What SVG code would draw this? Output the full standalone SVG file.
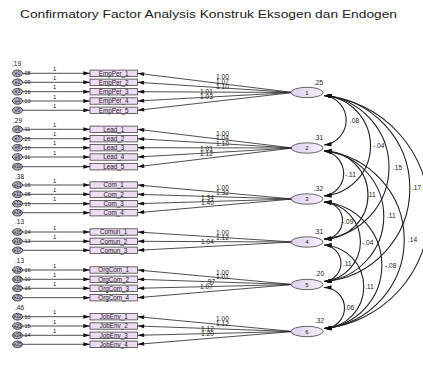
<svg xmlns="http://www.w3.org/2000/svg" width="423" height="366" viewBox="0 0 423 366">
<style>
text{font-family:"Liberation Sans",Arial,sans-serif;fill:#222}
.title{font-size:10.5px;fill:#222}
.box{fill:#eedcf2;stroke:#444;stroke-width:0.8}
.btx{font-size:6.3px;text-anchor:middle}
.err{fill:#b9aec9;stroke:#333;stroke-width:0.9}
.etx{font-size:4.8px;text-anchor:middle}
.ev{font-size:5.5px}
.one{font-size:6px}
.gv{font-size:6.5px}
.fac{fill:url(#fg);stroke:#444;stroke-width:0.8}
.ftx{font-size:6px;text-anchor:middle}
.num{font-size:6.6px}
.ln{stroke:#222;stroke-width:0.8;fill:none}
.arc{stroke:#222;stroke-width:1.1;fill:none}
</style>
<defs>
<linearGradient id="fg" x1="0" y1="0" x2="1" y2="0">
<stop offset="0" stop-color="#ddd0ee"/><stop offset="1" stop-color="#f6f0fa"/>
</linearGradient>
<marker id="ah" viewBox="0 0 10 6" refX="10" refY="3" markerWidth="10" markerHeight="4" markerUnits="userSpaceOnUse" orient="auto"><path d="M0,0 L10,3 L0,6 z" fill="#111"/></marker>
<marker id="ac" viewBox="0 0 10 6" refX="10" refY="3" markerWidth="8" markerHeight="4.5" markerUnits="userSpaceOnUse" orient="auto-start-reverse"><path d="M0,0 L10,3 L0,6 z" fill="#111"/></marker>
</defs>
<rect width="423" height="366" fill="#fff"/>
<text class="title" x="20" y="17.5" textLength="377" lengthAdjust="spacingAndGlyphs">Confirmatory Factor Analysis Konstruk Eksogen dan Endogen</text>

<g id="connectors">
<g marker-end="url(#ah)" class="ln">
<path d="M22.5,73.3H90"/><path d="M22.5,82.3H90"/><path d="M22.5,91.7H90"/><path d="M22.5,101H90"/><path d="M22.5,110.3H90"/>
<path d="M22.5,129.3H90"/><path d="M22.5,138.7H90"/><path d="M22.5,147.7H90"/><path d="M22.5,157H90"/><path d="M22.5,166.7H90"/>
<path d="M22.5,185H90"/><path d="M22.5,194.3H90"/><path d="M22.5,203.7H90"/><path d="M22.5,212.7H90"/>
<path d="M22.5,232H90"/><path d="M22.5,241.3H90"/><path d="M22.5,250.3H90"/>
<path d="M22.5,270H90"/><path d="M22.5,279.3H90"/><path d="M22.5,288.3H90"/><path d="M22.5,297.7H90"/>
<path d="M22.5,316.7H90"/><path d="M22.5,326H90"/><path d="M22.5,335.3H90"/><path d="M22.5,344.3H90"/>
</g>
<g marker-end="url(#ah)" class="ln">
<path d="M293,92.5L137.5,73.3"/><path d="M293,92.5L137.5,82.3"/><path d="M293,92.5L137.5,91.7"/><path d="M293,92.5L137.5,101"/><path d="M293,92.5L137.5,110.3"/>
<path d="M293,148L137.5,129.3"/><path d="M293,148L137.5,138.7"/><path d="M293,148L137.5,147.7"/><path d="M293,148L137.5,157"/><path d="M293,148L137.5,166.7"/>
<path d="M293,199L137.5,185"/><path d="M293,199L137.5,194.3"/><path d="M293,199L137.5,203.7"/><path d="M293,199L137.5,212.7"/>
<path d="M293,242L137.5,232"/><path d="M293,242L137.5,241.3"/><path d="M293,242L137.5,250.3"/>
<path d="M293,284.5L137.5,270"/><path d="M293,284.5L137.5,279.3"/><path d="M293,284.5L137.5,288.3"/><path d="M293,284.5L137.5,297.7"/>
<path d="M293,331.5L137.5,316.7"/><path d="M293,331.5L137.5,326"/><path d="M293,331.5L137.5,335.3"/><path d="M293,331.5L137.5,344.3"/>
</g>
<g class="arc" marker-start="url(#ac)" marker-end="url(#ac)">
<path d="M324,95.5A24.9,24.9 0 0 1 324,145"/>
<path d="M324,95.5A50.4,50.4 0 0 1 324,196"/>
<path d="M324,95.5A72.1,72.1 0 0 1 324,239"/>
<path d="M324,95.5A93.3,93.3 0 0 1 324,281.5"/>
<path d="M324,95.5A117.1,117.1 0 0 1 324,328.5"/>
<path d="M324,151A22.7,22.7 0 0 1 324,196"/>
<path d="M324,151A44,44 0 0 1 324,239"/>
<path d="M324,151A65.5,65.5 0 0 1 324,281.5"/>
<path d="M324,151A89.2,89.2 0 0 1 324,328.5"/>
<path d="M324,202A18.5,18.5 0 0 1 324,239"/>
<path d="M324,202A39.9,39.9 0 0 1 324,281.5"/>
<path d="M324,202A63.5,63.5 0 0 1 324,328.5"/>
<path d="M324,245A18.3,18.3 0 0 1 324,281.5"/>
<path d="M324,245A41.8,41.8 0 0 1 324,328.5"/>
<path d="M324,287.5A20.5,20.5 0 0 1 324,328.5"/>
</g>
<g class="one">
<text x="53" y="70.8">1</text><text x="53" y="79.8">1</text><text x="53" y="89.2">1</text><text x="53" y="98.5">1</text><text x="53" y="107.8">1</text>
<text x="53" y="126.8">1</text><text x="53" y="136.2">1</text><text x="53" y="145.2">1</text><text x="53" y="154.5">1</text>
<text x="53" y="182.5">1</text><text x="53" y="191.8">1</text><text x="53" y="201.2">1</text>
<text x="53" y="229.5">1</text><text x="53" y="238.8">1</text>
<text x="53" y="267.5">1</text><text x="53" y="276.8">1</text><text x="53" y="285.8">1</text>
<text x="53" y="314.2">1</text><text x="53" y="323.5">1</text><text x="53" y="332.8">1</text>
</g>
<g class="num">
<text x="216" y="79">1.00</text><text x="216" y="83.5">1.07</text><text x="216" y="89">1.10</text><text x="200" y="94">1.01</text><text x="200" y="99">1.03</text>
<text x="216" y="135.5">1.00</text><text x="216" y="140">1.04</text><text x="216" y="146">1.10</text><text x="200" y="151">1.01</text><text x="200" y="156">1.12</text>
<text x="216" y="190">1.00</text><text x="216" y="194.5">1.32</text><text x="201" y="199.5">1.34</text><text x="201" y="204.5">1.40</text>
<text x="216" y="234.5">1.00</text><text x="216" y="239.5">1.12</text><text x="201" y="244">1.04</text>
<text x="216" y="274.5">1.00</text><text x="216" y="279">1.01</text><text x="206" y="284">.97</text><text x="200" y="289">1.07</text>
<text x="216" y="321">1.00</text><text x="216" y="326">1.12</text><text x="201" y="331">1.12</text><text x="201" y="336">1.20</text>
</g>
<g class="num">
<text x="350" y="123">.08</text>
<text x="373" y="148">-.04</text>
<text x="393" y="170">.15</text>
<text x="412" y="190">.17</text>
<text x="345" y="177">-.11</text>
<text x="367" y="197">.11</text>
<text x="387" y="218">.11</text>
<text x="408" y="242">.14</text>
<text x="342" y="224">-.09</text>
<text x="362" y="245">-.04</text>
<text x="385" y="267.5">-.08</text>
<text x="343" y="266">.11</text>
<text x="365" y="289">.11</text>
<text x="345" y="310">.06</text>
</g>
</g>

<g id="error-variance-labels" class="gv">
<text x="12" y="66">.19</text><text x="13" y="123">.29</text><text x="15" y="179">.38</text><text x="15" y="224">.13</text><text x="15" y="263">.13</text><text x="15" y="309.5">.46</text>
</g>

<g id="e1"><ellipse class="err" cx="17.5" cy="73.3" rx="5" ry="3.3"/><text class="etx" x="17.5" y="75">e1</text><text class="ev" x="23" y="75.2">.08</text></g>
<g id="e2"><ellipse class="err" cx="17.5" cy="82.3" rx="5" ry="3.3"/><text class="etx" x="17.5" y="84">e2</text><text class="ev" x="23" y="84.2">.09</text></g>
<g id="e3"><ellipse class="err" cx="17.5" cy="91.7" rx="5" ry="3.3"/><text class="etx" x="17.5" y="93.4">e3</text><text class="ev" x="23" y="93.6">.16</text></g>
<g id="e4"><ellipse class="err" cx="17.5" cy="101" rx="5" ry="3.3"/><text class="etx" x="17.5" y="102.7">e4</text><text class="ev" x="23" y="102.9">.13</text></g>
<g id="e5"><ellipse class="err" cx="17.5" cy="110.3" rx="5" ry="3.3"/><text class="etx" x="17.5" y="112">e5</text></g>
<g id="e6"><ellipse class="err" cx="17.5" cy="129.3" rx="5" ry="3.3"/><text class="etx" x="17.5" y="131">e6</text><text class="ev" x="23" y="131.2">.11</text></g>
<g id="e7"><ellipse class="err" cx="17.5" cy="138.7" rx="5" ry="3.3"/><text class="etx" x="17.5" y="140.4">e7</text><text class="ev" x="23" y="140.6">.25</text></g>
<g id="e8"><ellipse class="err" cx="17.5" cy="147.7" rx="5" ry="3.3"/><text class="etx" x="17.5" y="149.4">e8</text><text class="ev" x="23" y="149.6">.10</text></g>
<g id="e9"><ellipse class="err" cx="17.5" cy="157" rx="5" ry="3.3"/><text class="etx" x="17.5" y="158.7">e9</text><text class="ev" x="23" y="158.9">.11</text></g>
<g id="e10"><ellipse class="err" cx="17.5" cy="166.7" rx="5" ry="3.3"/><text class="etx" x="17.5" y="168.4">e10</text></g>
<g id="e11"><ellipse class="err" cx="17.5" cy="185" rx="5" ry="3.3"/><text class="etx" x="17.5" y="186.7">e11</text><text class="ev" x="23" y="186.9">.16</text></g>
<g id="e12"><ellipse class="err" cx="17.5" cy="194.3" rx="5" ry="3.3"/><text class="etx" x="17.5" y="196">e12</text><text class="ev" x="23" y="196.2">.08</text></g>
<g id="e13"><ellipse class="err" cx="17.5" cy="203.7" rx="5" ry="3.3"/><text class="etx" x="17.5" y="205.4">e13</text><text class="ev" x="23" y="205.6">.15</text></g>
<g id="e14"><ellipse class="err" cx="17.5" cy="212.7" rx="5" ry="3.3"/><text class="etx" x="17.5" y="214.4">e14</text></g>
<g id="e15"><ellipse class="err" cx="17.5" cy="232" rx="5" ry="3.3"/><text class="etx" x="17.5" y="233.7">e15</text><text class="ev" x="23" y="233.9">.24</text></g>
<g id="e16"><ellipse class="err" cx="17.5" cy="241.3" rx="5" ry="3.3"/><text class="etx" x="17.5" y="243">e16</text><text class="ev" x="23" y="243.2">.13</text></g>
<g id="e17"><ellipse class="err" cx="17.5" cy="250.3" rx="5" ry="3.3"/><text class="etx" x="17.5" y="252">e17</text></g>
<g id="e18"><ellipse class="err" cx="17.5" cy="270" rx="5" ry="3.3"/><text class="etx" x="17.5" y="271.7">e18</text><text class="ev" x="23" y="271.9">.16</text></g>
<g id="e19"><ellipse class="err" cx="17.5" cy="279.3" rx="5" ry="3.3"/><text class="etx" x="17.5" y="281">e19</text><text class="ev" x="23" y="281.2">.10</text></g>
<g id="e20"><ellipse class="err" cx="17.5" cy="288.3" rx="5" ry="3.3"/><text class="etx" x="17.5" y="290">e20</text><text class="ev" x="23" y="290.2">.16</text></g>
<g id="e21"><ellipse class="err" cx="17.5" cy="297.7" rx="5" ry="3.3"/><text class="etx" x="17.5" y="299.4">e21</text></g>
<g id="e22"><ellipse class="err" cx="17.5" cy="316.7" rx="5" ry="3.3"/><text class="etx" x="17.5" y="318.4">e22</text><text class="ev" x="23" y="318.6">.10</text></g>
<g id="e23"><ellipse class="err" cx="17.5" cy="326" rx="5" ry="3.3"/><text class="etx" x="17.5" y="327.7">e23</text><text class="ev" x="23" y="327.9">.15</text></g>
<g id="e24"><ellipse class="err" cx="17.5" cy="335.3" rx="5" ry="3.3"/><text class="etx" x="17.5" y="337">e24</text><text class="ev" x="23" y="337.2">.14</text></g>
<g id="e25"><ellipse class="err" cx="17.5" cy="344.3" rx="5" ry="3.3"/><text class="etx" x="17.5" y="346">e25</text></g>

<g id="EmpPer_1"><rect class="box" x="90" y="70.1" width="47.5" height="6.4"/><text class="btx" x="113.7" y="75.6">EmpPer_1</text></g>
<g id="EmpPer_2"><rect class="box" x="90" y="79.1" width="47.5" height="6.4"/><text class="btx" x="113.7" y="84.6">EmpPer_2</text></g>
<g id="EmpPer_3"><rect class="box" x="90" y="88.5" width="47.5" height="6.4"/><text class="btx" x="113.7" y="94">EmpPer_3</text></g>
<g id="EmpPer_4"><rect class="box" x="90" y="97.8" width="47.5" height="6.4"/><text class="btx" x="113.7" y="103.3">EmpPer_4</text></g>
<g id="EmpPer_5"><rect class="box" x="90" y="107.1" width="47.5" height="6.4"/><text class="btx" x="113.7" y="112.6">EmpPer_5</text></g>
<g id="Lead_1"><rect class="box" x="90" y="126.1" width="47.5" height="6.4"/><text class="btx" x="113.7" y="131.6">Lead_1</text></g>
<g id="Lead_2"><rect class="box" x="90" y="135.5" width="47.5" height="6.4"/><text class="btx" x="113.7" y="141">Lead_2</text></g>
<g id="Lead_3"><rect class="box" x="90" y="144.5" width="47.5" height="6.4"/><text class="btx" x="113.7" y="150">Lead_3</text></g>
<g id="Lead_4"><rect class="box" x="90" y="153.8" width="47.5" height="6.4"/><text class="btx" x="113.7" y="159.3">Lead_4</text></g>
<g id="Lead_5"><rect class="box" x="90" y="163.5" width="47.5" height="6.4"/><text class="btx" x="113.7" y="169">Lead_5</text></g>
<g id="Com_1"><rect class="box" x="90" y="181.8" width="47.5" height="6.4"/><text class="btx" x="113.7" y="187.3">Com_1</text></g>
<g id="Com_2"><rect class="box" x="90" y="191.1" width="47.5" height="6.4"/><text class="btx" x="113.7" y="196.6">Com_2</text></g>
<g id="Com_3"><rect class="box" x="90" y="200.5" width="47.5" height="6.4"/><text class="btx" x="113.7" y="206">Com_3</text></g>
<g id="Com_4"><rect class="box" x="90" y="209.5" width="47.5" height="6.4"/><text class="btx" x="113.7" y="215">Com_4</text></g>
<g id="Comun_1"><rect class="box" x="90" y="228.8" width="47.5" height="6.4"/><text class="btx" x="113.7" y="234.3">Comun_1</text></g>
<g id="Comun_2"><rect class="box" x="90" y="238.1" width="47.5" height="6.4"/><text class="btx" x="113.7" y="243.6">Comun_2</text></g>
<g id="Comun_3"><rect class="box" x="90" y="247.1" width="47.5" height="6.4"/><text class="btx" x="113.7" y="252.6">Comun_3</text></g>
<g id="OrgCom_1"><rect class="box" x="90" y="266.8" width="47.5" height="6.4"/><text class="btx" x="113.7" y="272.3">OrgCom_1</text></g>
<g id="OrgCom_2"><rect class="box" x="90" y="276.1" width="47.5" height="6.4"/><text class="btx" x="113.7" y="281.6">OrgCom_2</text></g>
<g id="OrgCom_3"><rect class="box" x="90" y="285.1" width="47.5" height="6.4"/><text class="btx" x="113.7" y="290.6">OrgCom_3</text></g>
<g id="OrgCom_4"><rect class="box" x="90" y="294.5" width="47.5" height="6.4"/><text class="btx" x="113.7" y="300">OrgCom_4</text></g>
<g id="JobEnv_1"><rect class="box" x="90" y="313.5" width="47.5" height="6.4"/><text class="btx" x="113.7" y="319">JobEnv_1</text></g>
<g id="JobEnv_2"><rect class="box" x="90" y="322.8" width="47.5" height="6.4"/><text class="btx" x="113.7" y="328.3">JobEnv_2</text></g>
<g id="JobEnv_3"><rect class="box" x="90" y="332.1" width="47.5" height="6.4"/><text class="btx" x="113.7" y="337.6">JobEnv_3</text></g>
<g id="JobEnv_4"><rect class="box" x="90" y="341.1" width="47.5" height="6.4"/><text class="btx" x="113.7" y="346.6">JobEnv_4</text></g>

<g id="F1"><ellipse class="fac" cx="307" cy="92.5" rx="16" ry="5.2"/><text class="ftx" x="307" y="94.6">1</text><text class="gv" x="314" y="84.5">.25</text></g>
<g id="F2"><ellipse class="fac" cx="307" cy="148" rx="16" ry="5.2"/><text class="ftx" x="307" y="150.1">2</text><text class="gv" x="314" y="139.5">.31</text></g>
<g id="F3"><ellipse class="fac" cx="307" cy="199" rx="16" ry="5.2"/><text class="ftx" x="307" y="201.1">3</text><text class="gv" x="314" y="190.5">.32</text></g>
<g id="F4"><ellipse class="fac" cx="307" cy="242" rx="16" ry="5.2"/><text class="ftx" x="307" y="244.1">4</text><text class="gv" x="314" y="233.5">.31</text></g>
<g id="F5"><ellipse class="fac" cx="307" cy="284.5" rx="16" ry="5.2"/><text class="ftx" x="307" y="286.6">5</text><text class="gv" x="315" y="275.5">.20</text></g>
<g id="F6"><ellipse class="fac" cx="307" cy="331.5" rx="16" ry="5.2"/><text class="ftx" x="307" y="333.6">6</text><text class="gv" x="315" y="322.5">.32</text></g>
</svg>
